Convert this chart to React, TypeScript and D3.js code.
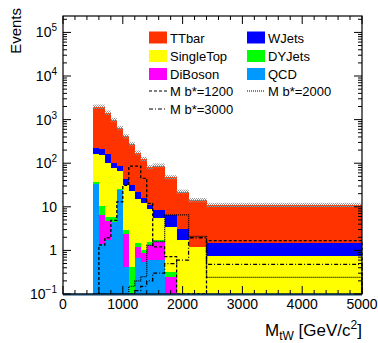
import React, { useEffect, useRef } from "react";
import * as d3 from "d3";

// bin edges in GeV (variable binning)
const edges = [500, 600, 700, 800, 900, 1000, 1100, 1200, 1300, 1400, 1500, 1700, 1900, 2100, 2400, 5000];

// background yields per bin (events)
const qcd = [33, 1.4, 1.7, 4.5, 24, 0.42, 0, 0.66, 0.55, 0.6, 0.6, 0, 0, 0, 0];
const diboson = [0.3, 5.0, 3.0, 0, 0, 1.9, 0, 0.54, 0.3, 0.73, 0.98, 0.25, 0, 0, 0];
const dyjets = [3.0, 4.0, 1.2, 1.2, 1.5, 0.6, 0.42, 0.26, 0.15, 0.25, 0.15, 0.07, 0, 0, 0];
const singletop = [124, 140, 97, 70, 40, 29, 23, 14, 11, 7.1, 3.7, 3.2, 1.7, 1.2, 0.75];
const wjets = [65, 60, 57, 24, 20, 11, 8.6, 6.8, 3.7, 2.3, 3.0, 3.0, 1.4, 0, 0.75];
const ttbar = [1755, 1770, 1280, 880, 555, 373, 243, 153, 108, 70, 80, 41, 19, 13, 9.5];

// signal yields per bin
const mb1200 = [0, 1.33, 1.95, 4.9, 13, 31, 86, 86, 45, 12, 1.2, 0.72, 0.05, 0.05, 1.67];
const mb2000 = [0, 0, 0, 0, 0, 0, 0.15, 0.2, 0.25, 1.3, 1.6, 6.5, 6.5, 2.1, 0.24];
const mb3000 = [0, 0, 0, 0, 0, 0, 0.1, 0.12, 0.15, 0.2, 0.3, 0.5, 0.6, 1.95, 0.48];

const xTicks = [0, 1000, 2000, 3000, 4000, 5000];
const yTicks = [0.1, 1, 10, 100, 1000, 10000, 100000];

const processes = [
  { key: "qcd", label: "QCD", color: "#0099ff", values: qcd },
  { key: "diboson", label: "DiBoson", color: "#ff00ff", values: diboson },
  { key: "dyjets", label: "DYJets", color: "#00ff00", values: dyjets },
  { key: "singletop", label: "SingleTop", color: "#ffff00", values: singletop },
  { key: "wjets", label: "WJets", color: "#0000ff", values: wjets },
  { key: "ttbar", label: "TTbar", color: "#ff3300", values: ttbar },
];

const signals = [
  { label: "M b*=1200", values: mb1200, dash: "3,2" },
  { label: "M b*=2000", values: mb2000, dash: "1,1" },
  { label: "M b*=3000", values: mb3000, dash: "4,2,1,2" },
];

const App = () => {
  const ref = useRef<SVGSVGElement>(null);

  useEffect(() => {
    const svg = d3.select(ref.current);
    svg.selectAll("*").remove();
    const font = "'Liberation Sans', Arial, Helvetica, sans-serif";

    const left = 63, right = 362, top = 16, bottom = 294;
    const x = d3.scaleLinear().domain([0, 5000]).range([left, right]);
    const y = d3.scaleLog().domain([0.1, 2.38e5]).range([bottom, top]);
    const yv = (v: number) => (v <= 0.1 ? bottom : y(v));

    // hatch pattern for the uncertainty band
    const defs = svg.append("defs");
    const pat = defs
      .append("pattern")
      .attr("id", "hatch")
      .attr("width", 2)
      .attr("height", 2)
      .attr("patternUnits", "userSpaceOnUse");
    pat.append("rect").attr("x", 0).attr("y", 0).attr("width", 1).attr("height", 1).attr("fill", "#999");
    pat.append("rect").attr("x", 1).attr("y", 1).attr("width", 1).attr("height", 1).attr("fill", "#999");

    // stacked backgrounds
    const table = edges.slice(0, -1).map((e, i) => {
      const row: any = { lo: e, hi: edges[i + 1] };
      processes.forEach((p) => (row[p.key] = p.values[i]));
      return row;
    });
    const stacked = d3.stack().keys(processes.map((p) => p.key))(table);

    stacked.forEach((layer, li) => {
      svg
        .append("g")
        .selectAll("rect")
        .data(layer.filter((d) => d[1] > d[0] && d[1] > 0.1))
        .enter()
        .append("rect")
        .attr("x", (d: any) => x(d.data.lo))
        .attr("width", (d: any) => x(d.data.hi) - x(d.data.lo))
        .attr("y", (d) => yv(d[1]))
        .attr("height", (d) => yv(d[0]) - yv(d[1]))
        .attr("fill", processes[li].color)
        .attr("shape-rendering", "crispEdges");
    });

    // uncertainty band on the total
    const totals = table.map((r) => processes.reduce((s, p) => s + r[p.key], 0));
    svg
      .append("g")
      .selectAll("rect")
      .data(table)
      .enter()
      .append("rect")
      .attr("x", (d) => x(d.lo))
      .attr("width", (d) => x(d.hi) - x(d.lo))
      .attr("y", (d, i) => y(totals[i] * 1.12))
      .attr("height", (d, i) => y(totals[i] / 1.12) - y(totals[i] * 1.12))
      .attr("fill", "url(#hatch)");

    // signal step histograms
    signals.forEach((s) => {
      const pts: [number, number][] = [];
      pts.push([x(edges[0]), bottom]);
      s.values.forEach((v, i) => {
        pts.push([x(edges[i]), yv(v)]);
        pts.push([x(edges[i + 1]), yv(v)]);
      });
      pts.push([x(edges[edges.length - 1]), bottom]);
      svg
        .append("path")
        .attr("d", d3.line()(pts))
        .attr("fill", "none")
        .attr("stroke", "#000")
        .attr("stroke-width", 1.3)
        .attr("stroke-dasharray", s.dash);
    });

    // frame
    svg
      .append("rect")
      .attr("x", left)
      .attr("y", top)
      .attr("width", right - left)
      .attr("height", bottom - top)
      .attr("fill", "none")
      .attr("stroke", "#000")
      .attr("stroke-width", 1.2);
    svg
      .append("line")
      .attr("x1", left)
      .attr("x2", right)
      .attr("y1", bottom + 0.5)
      .attr("y2", bottom + 0.5)
      .attr("stroke", "#0d3656")
      .attr("stroke-width", 2);

    // x ticks (bottom and top, pointing inwards)
    const ax = svg.append("g").attr("stroke", "#000").attr("stroke-width", 1);
    d3.range(0, 5001, 200).forEach((v) => {
      const len = v % 1000 === 0 ? 8 : 4;
      ax.append("line").attr("x1", x(v)).attr("x2", x(v)).attr("y1", bottom).attr("y2", bottom - len);
      ax.append("line").attr("x1", x(v)).attr("x2", x(v)).attr("y1", top).attr("y2", top + len);
    });
    // y ticks (left and right)
    yTicks.forEach((t) => {
      ax.append("line").attr("x1", left).attr("x2", left + 8).attr("y1", y(t)).attr("y2", y(t));
      ax.append("line").attr("x1", right).attr("x2", right - 8).attr("y1", y(t)).attr("y2", y(t));
      for (let k = 2; k <= 9; k++) {
        const m = t * k;
        if (m > 2.38e5) break;
        ax.append("line").attr("x1", left).attr("x2", left + 4).attr("y1", y(m)).attr("y2", y(m));
        ax.append("line").attr("x1", right).attr("x2", right - 4).attr("y1", y(m)).attr("y2", y(m));
      }
    });

    // x tick labels
    svg
      .append("g")
      .selectAll("text")
      .data(xTicks)
      .enter()
      .append("text")
      .attr("x", (d) => x(d))
      .attr("y", 309)
      .attr("text-anchor", "middle")
      .attr("font-family", font)
      .attr("font-size", 14)
      .text((d) => d);

    // y tick labels
    const yl = svg.append("g").attr("font-family", font).attr("font-size", 14);
    yTicks.forEach((t) => {
      const e = Math.round(Math.log10(t));
      const txt = yl.append("text").attr("x", 57).attr("y", y(t) + 5).attr("text-anchor", "end");
      if (e === 0 || e === 1) {
        txt.text(t);
      } else {
        txt.append("tspan").text("10");
        txt.append("tspan").attr("dy", -6).attr("font-size", 10).text(e === -1 ? "\u22121" : e);
      }
    });

    // axis titles
    svg
      .append("text")
      .attr("transform", "translate(21,8) rotate(-90)")
      .attr("text-anchor", "end")
      .attr("font-family", font)
      .attr("font-size", 15)
      .text("Events");
    const xt = svg
      .append("text")
      .attr("x", right)
      .attr("y", 336)
      .attr("text-anchor", "end")
      .attr("font-family", font)
      .attr("font-size", 17);
    xt.append("tspan").text("M");
    xt.append("tspan").attr("dy", 4).attr("font-size", 12).text("tW");
    xt.append("tspan").attr("dy", -4).text(" [GeV/c");
    xt.append("tspan").attr("dy", -7).attr("font-size", 12).text("2");
    xt.append("tspan").attr("dy", 7).text("]");

    // legend
    const lg = svg.append("g").attr("font-family", font).attr("font-size", 13);
    const legendItems = [
      { p: "ttbar", col: 0, row: 0 },
      { p: "wjets", col: 1, row: 0 },
      { p: "singletop", col: 0, row: 1 },
      { p: "dyjets", col: 1, row: 1 },
      { p: "diboson", col: 0, row: 2 },
      { p: "qcd", col: 1, row: 2 },
    ];
    const colX = [149, 247];
    const rowY = [37.5, 56, 74, 91, 109];
    legendItems.forEach((it) => {
      const p = processes.find((q) => q.key === it.p)!;
      lg.append("rect")
        .attr("x", colX[it.col])
        .attr("y", rowY[it.row] - 6)
        .attr("width", 18)
        .attr("height", 12)
        .attr("fill", p.color);
      lg.append("text")
        .attr("x", colX[it.col] + 21)
        .attr("y", rowY[it.row] + 5)
        .text(p.label);
    });
    const sigPos = [
      { col: 0, row: 3 },
      { col: 1, row: 3 },
      { col: 0, row: 4 },
    ];
    signals.forEach((s, i) => {
      const c = sigPos[i];
      lg.append("line")
        .attr("x1", colX[c.col])
        .attr("x2", colX[c.col] + 18)
        .attr("y1", rowY[c.row])
        .attr("y2", rowY[c.row])
        .attr("stroke", "#000")
        .attr("stroke-width", 1)
        .attr("stroke-dasharray", s.dash);
      lg.append("text")
        .attr("x", colX[c.col] + 21)
        .attr("y", rowY[c.row] + 5)
        .text(s.label);
    });
  }, []);

  return (
    <svg
      ref={ref}
      width={378}
      height={343}
      style={{ position: "absolute", left: 0, top: 0, background: "#fff" }}
    />
  );
};

export default App;
